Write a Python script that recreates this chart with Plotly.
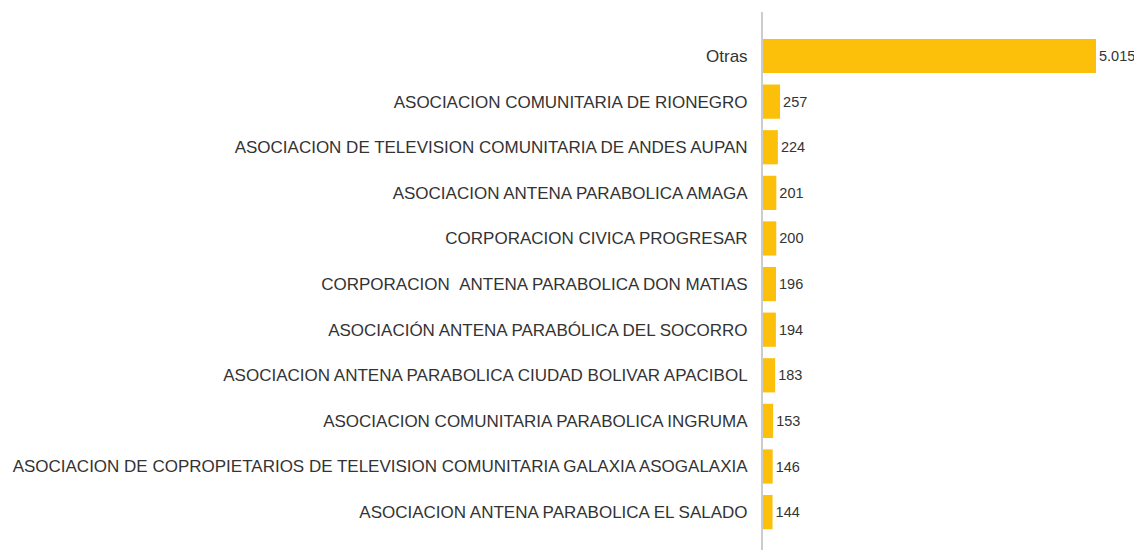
import plotly.graph_objects as go

# categories top to bottom
entidades = [
    "Otras",
    "ASOCIACION COMUNITARIA DE RIONEGRO",
    "ASOCIACION DE TELEVISION COMUNITARIA DE ANDES AUPAN",
    "ASOCIACION ANTENA PARABOLICA AMAGA",
    "CORPORACION CIVICA PROGRESAR",
    "CORPORACION\u00a0\u00a0ANTENA PARABOLICA DON MATIAS",
    "ASOCIACIÓN ANTENA PARABÓLICA DEL SOCORRO",
    "ASOCIACION ANTENA PARABOLICA CIUDAD BOLIVAR APACIBOL",
    "ASOCIACION COMUNITARIA PARABOLICA INGRUMA",
    "ASOCIACION DE COPROPIETARIOS DE TELEVISION COMUNITARIA GALAXIA ASOGALAXIA",
    "ASOCIACION ANTENA PARABOLICA EL SALADO",
]
valores = [5015, 257, 224, 201, 200, 196, 194, 183, 153, 146, 144]

fig = go.Figure()
fig.add_trace(go.Bar(
    x=valores,
    y=entidades,
    orientation='h',
    marker=dict(color='#FCBF0A', line=dict(width=0)),
    texttemplate='%{x:,}',
    textposition='outside',
    textfont=dict(size=14.5, color='#333333'),
    cliponaxis=False,
    hoverinfo='skip',
))

# the page body adds an 8px margin, so the figure is 8px smaller each way
fig.update_layout(
    width=1134, height=542,
    margin=dict(l=755, r=0, t=4, b=0),
    paper_bgcolor='white',
    plot_bgcolor='white',
    separators=',.',
    bargap=0.25,
    showlegend=False,
    font=dict(family='Liberation Sans, Arial, sans-serif', color='#333333'),
)
fig.update_xaxes(
    range=[0, 5708],
    showgrid=False, zeroline=False, showticklabels=False, showline=False,
)
fig.update_yaxes(
    categoryorder='array', categoryarray=entidades,
    range=[10.83, -0.965],
    showgrid=False, zeroline=False,
    showline=True, linecolor='#CCCCCC', linewidth=2,
    ticks='', ticklabelstandoff=10,
    tickfont=dict(size=17, color='#333333'),
)

fig.write_html("out.html")
